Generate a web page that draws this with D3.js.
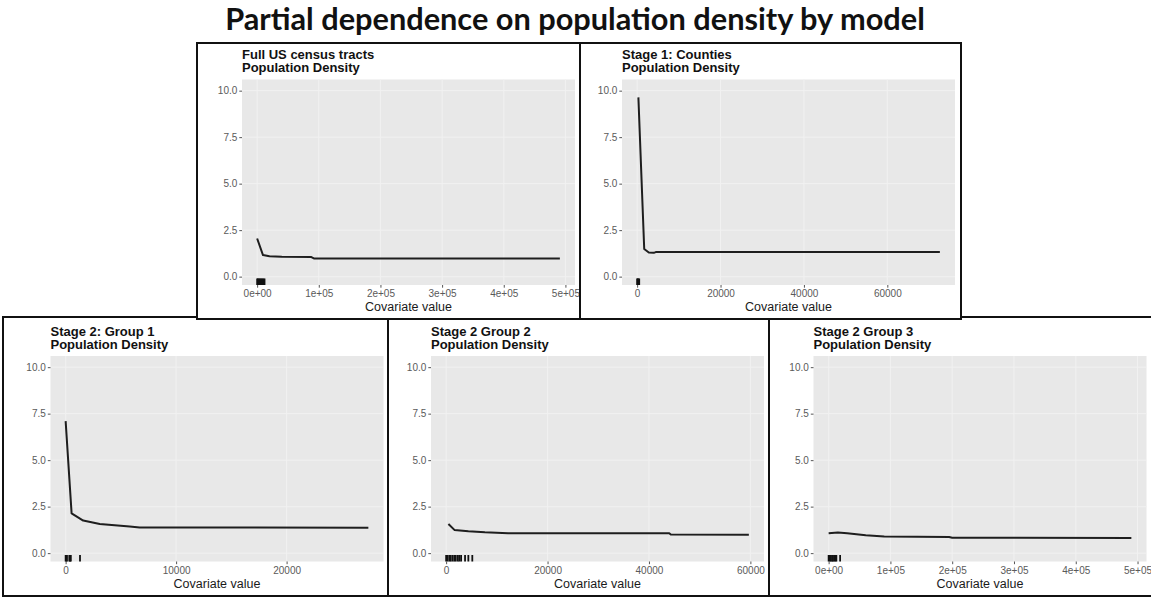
<!DOCTYPE html>
<html>
<head>
<meta charset="utf-8">
<script src="https://cdn.jsdelivr.net/npm/d3@7"></script>
<style>
  body { margin: 0; background: #fff; }
</style>
</head>
<body>
<script>
// values
const mainTitle = "Partial dependence on population density by model";
const yTicks = [0, 2.5, 5, 7.5, 10];
const yLimits = [-0.45, 10.6];
const xTitle = "Covariate value";

const fullX = [0, 9500, 20000, 40000, 88000, 92000, 491000];
const fullY = [2.05, 1.16, 1.1, 1.07, 1.05, 0.98, 0.97];
const fullRug = [0, 1200, 2600, 3900, 5500, 7000, 8600, 10200, 12000];
const fullTicks = [0, 1e5, 2e5, 3e5, 4e5, 5e5];
const fullTickLabels = ["0e+00", "1e+05", "2e+05", "3e+05", "4e+05", "5e+05"];

const countyX = [300, 1700, 2800, 4000, 4600, 72600];
const countyY = [9.64, 1.49, 1.3, 1.28, 1.33, 1.33];
const countyRug = [0, 150, 300, 500];
const countyTicks = [0, 20000, 40000, 60000];
const countyTickLabels = ["0", "20000", "40000", "60000"];

const group1X = [0, 540, 1590, 3090, 5800, 6700, 27400];
const group1Y = [7.1, 2.14, 1.75, 1.57, 1.43, 1.38, 1.37];
const group1Rug = [0, 60, 120, 330, 400, 470, 1300];
const group1Ticks = [0, 10000, 20000];
const group1TickLabels = ["0", "10000", "20000"];

const group2X = [450, 1630, 4380, 7650, 12230, 44000, 44300, 59700];
const group2Y = [1.57, 1.25, 1.18, 1.12, 1.07, 1.07, 1.0, 0.99];
const group2Rug = [0, 300, 650, 900, 1250, 1600, 1900, 2300, 2600, 2950, 3730, 4380, 5160];
const group2Ticks = [0, 20000, 40000, 60000];
const group2TickLabels = ["0", "20000", "40000", "60000"];

const group3X = [0, 15000, 30000, 60000, 90000, 195000, 200000, 490000];
const group3Y = [1.07, 1.11, 1.07, 0.96, 0.9, 0.87, 0.83, 0.82];
const group3Rug = [0, 1800, 3500, 5500, 7000, 9000, 11000, 12500, 18600];
const group3Ticks = [0, 1e5, 2e5, 3e5, 4e5, 5e5];
const group3TickLabels = ["0e+00", "1e+05", "2e+05", "3e+05", "4e+05", "5e+05"];

// where each pasted plot sits on the slide (bottom row first, top row drawn over it)
const plotW = 333, plotH = 205.5;
const panels = [
  {title: ["Stage 2: Group 1", "Population Density"], xs: group1X, ys: group1Y, rug: group1Rug,
   ticks: group1Ticks, labels: group1TickLabels, frame: [3, 317, 385, 279], plot: [50.5, 356]},
  {title: ["Stage 2 Group 2", "Population Density"], xs: group2X, ys: group2Y, rug: group2Rug,
   ticks: group2Ticks, labels: group2TickLabels, frame: [388, 317, 382, 279], plot: [431, 356]},
  {title: ["Stage 2 Group 3", "Population Density"], xs: group3X, ys: group3Y, rug: group3Rug,
   ticks: group3Ticks, labels: group3TickLabels, frame: [769, 317, 390, 279], plot: [813.5, 356]},
  {title: ["Full US census tracts", "Population Density"], xs: fullX, ys: fullY, rug: fullRug,
   ticks: fullTicks, labels: fullTickLabels, frame: [197, 43, 383, 276], plot: [242, 79.5]},
  {title: ["Stage 1: Counties", "Population Density"], xs: countyX, ys: countyY, rug: countyRug,
   ticks: countyTicks, labels: countyTickLabels, frame: [580, 43, 381, 276], plot: [622, 79.5]}
];

const svg = d3.select("body").append("svg")
    .attr("width", 1151)
    .attr("height", 598);

const font = "'Liberation Sans', Arial, sans-serif";

panels.forEach(p => {
    let g = svg.append("g");
    let [fx, fy, fw, fh] = p.frame;
    let [px, py] = p.plot;

    g.append("rect")
        .attr("x", fx).attr("y", fy)
        .attr("width", fw).attr("height", fh)
        .attr("fill", "#fff")
        .attr("stroke", "#111")
        .attr("stroke-width", 2);

    // ggplot pads the data range by 5% each side
    let ext = d3.extent(p.xs.concat(p.rug));
    let pad = (ext[1] - ext[0]) * 0.05;

    let x = d3.scaleLinear()
        .domain([ext[0] - pad, ext[1] + pad])
        .range([px, px + plotW]);

    let y = d3.scaleLinear()
        .domain(yLimits)
        .range([py + plotH, py]);

    g.append("rect")
        .attr("x", px).attr("y", py)
        .attr("width", plotW).attr("height", plotH)
        .attr("fill", "#e8e8e8");

    // grid lines, very faint in the scan
    g.selectAll(".hgrid")
        .data(yTicks)
        .enter()
        .append("line")
        .attr("x1", px).attr("x2", px + plotW)
        .attr("y1", d => y(d)).attr("y2", d => y(d))
        .attr("stroke", "#f1f1f1")
        .attr("stroke-width", 1);

    g.selectAll(".vgrid")
        .data(p.ticks)
        .enter()
        .append("line")
        .attr("x1", d => x(d)).attr("x2", d => x(d))
        .attr("y1", py).attr("y2", py + plotH)
        .attr("stroke", "#f1f1f1")
        .attr("stroke-width", 1);

    let line = d3.line()
        .x((d, i) => x(p.xs[i]))
        .y(d => y(d));

    g.append("path")
        .datum(p.ys)
        .attr("d", line)
        .attr("fill", "none")
        .attr("stroke", "#1e1e1e")
        .attr("stroke-width", 2)
        .attr("stroke-linejoin", "round");

    // rug along the bottom
    g.selectAll(".rug")
        .data(p.rug)
        .enter()
        .append("line")
        .attr("x1", d => x(d)).attr("x2", d => x(d))
        .attr("y1", py + plotH).attr("y2", py + plotH - 6.5)
        .attr("stroke", "#111")
        .attr("stroke-width", 1.8);

    let yAxis = g.append("g")
        .attr("transform", "translate(" + px + ",0)")
        .call(d3.axisLeft(y).tickValues(yTicks).tickFormat(d3.format(".1f")).tickSize(2.7).tickPadding(2));

    let xAxis = g.append("g")
        .attr("transform", "translate(0," + (py + plotH) + ")")
        .call(d3.axisBottom(x).tickValues(p.ticks).tickFormat((d, i) => p.labels[i]).tickSize(2.7).tickPadding(2.5));

    [yAxis, xAxis].forEach(a => {
        a.select(".domain").remove();
        a.selectAll("line").attr("stroke", "#555");
        a.selectAll("text")
            .attr("font-family", font)
            .attr("font-size", 10)
            .attr("fill", "#5a5a5a");
    });

    g.append("text")
        .attr("x", px + plotW / 2)
        .attr("y", py + plotH + 26)
        .attr("text-anchor", "middle")
        .attr("font-family", font)
        .attr("font-size", 12.5)
        .attr("fill", "#1a1a1a")
        .text(xTitle);

    g.selectAll(".ptitle")
        .data(p.title)
        .enter()
        .append("text")
        .attr("x", px)
        .attr("y", (d, i) => py - 20.5 + i * 13.4)
        .attr("font-family", font)
        .attr("font-weight", "bold")
        .attr("font-size", 13)
        .attr("fill", "#111")
        .text(d => d);
});

let title = svg.append("text")
    .attr("x", 575)
    .attr("y", 29.5)
    .attr("text-anchor", "middle")
    .attr("font-family", "Lato, 'Open Sans', sans-serif")
    .attr("font-weight", 700)
    .attr("font-size", 27)
    .attr("fill", "#111")
    .text(mainTitle);

// squeeze the title to the width it has on the slide
let tw = title.node().getComputedTextLength();
title.attr("font-size", 27 * 700 / tw);
</script>
</body>
</html>
